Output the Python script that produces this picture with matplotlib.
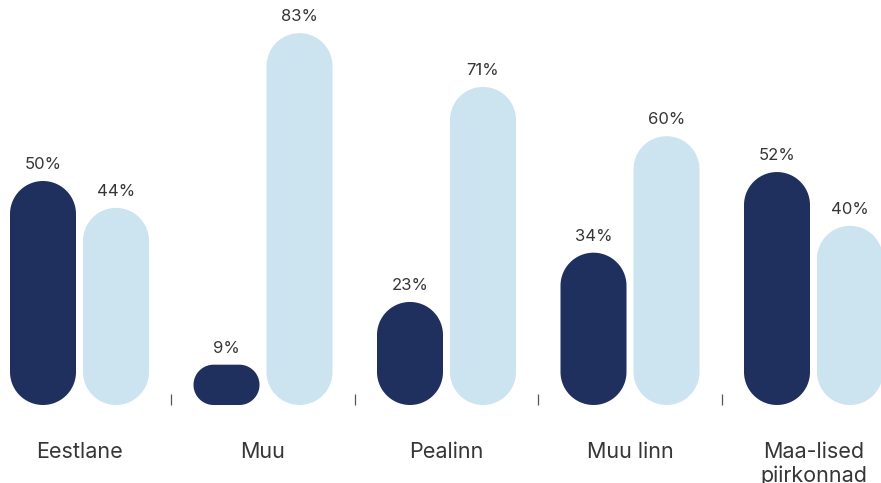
import matplotlib
matplotlib.use("Agg")
import matplotlib.pyplot as plt
import numpy as np
from matplotlib.patches import Polygon

categories = ["Eestlane", "Muu", "Pealinn", "Muu linn", "Maa-lised\npiirkonnad"]
series_dark = [50, 9, 23, 34, 52]
series_light = [44, 83, 71, 60, 40]

DARK = "#1f305f"
LIGHT = "#cce4f0"
TEXT = "#363636"

plt.rcParams["font.family"] = ["Inter", "DejaVu Sans"]

W, H = 881, 483
fig = plt.figure(figsize=(W / 100, H / 100), dpi=100)
base_px = 78  # baseline distance from bottom (px)
ax = fig.add_axes([0, base_px / H, 1, (H - base_px) / H])

px_per_x = 183.5
px_per_y = 4.48
x0_px = 79.5
ax.set_xlim(-x0_px / px_per_x, (W - x0_px) / px_per_x)
ax.set_ylim(0, (H - base_px) / px_per_y)

bar_w = 66 / px_per_x
off = 36.5 / px_per_x


def stadium(cx, val):
    w_px = bar_w * px_per_x
    h_px = val * px_per_y
    r_px = min(w_px / 2, h_px / 2)
    rx = r_px / px_per_x
    ry = r_px / px_per_y
    xl, xr = cx - bar_w / 2, cx + bar_w / 2
    pts = []
    corners = [((xr - rx, val - ry), 0), ((xl + rx, val - ry), 90),
               ((xl + rx, ry), 180), ((xr - rx, ry), 270)]
    for (ccx, ccy), a0 in corners:
        t = np.radians(np.linspace(a0, a0 + 90, 30))
        pts.extend(zip(ccx + rx * np.cos(t), ccy + ry * np.sin(t)))
    return np.array(pts)


for i, (d, l) in enumerate(zip(series_dark, series_light)):
    for val, dx, col in ((d, -off, DARK), (l, off, LIGHT)):
        cx = i + dx
        ax.add_patch(Polygon(stadium(cx, val), closed=True, fc=col,
                             ec="none", clip_on=False))
        ax.annotate(f"{val}%", (cx, val), xytext=(0, 12),
                    textcoords="offset points", ha="center", va="center",
                    fontsize=12, color=TEXT)

for s in ax.spines.values():
    s.set_visible(False)
ax.set_yticks([])
ax.set_xticks(range(len(categories)))
ax.set_xticklabels(categories, fontsize=15.5, color=TEXT, linespacing=1.25)
ax.tick_params(axis="x", which="major", length=0, pad=26.5)
ax.set_xticks([i + 0.5 for i in range(len(categories) - 1)], minor=True)
ax.tick_params(axis="x", which="minor", direction="in", length=8,
               width=0.9, color="#555555")

fig.savefig("out.png", dpi=100)
